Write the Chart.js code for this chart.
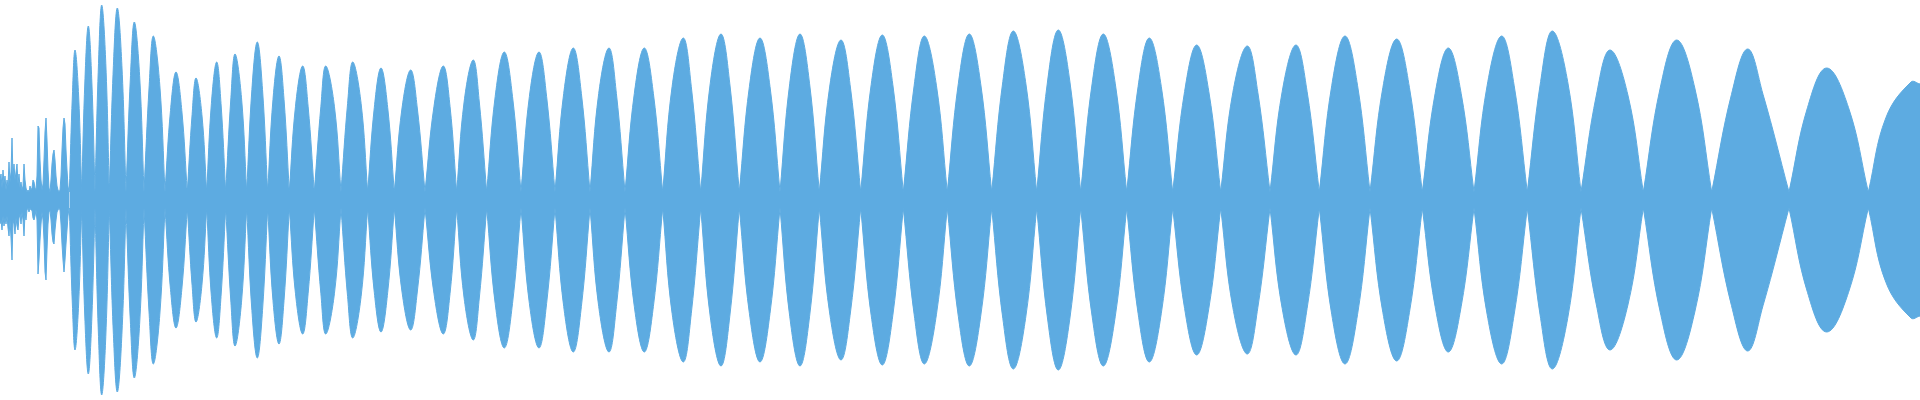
<!DOCTYPE html>
<html>
<head>
<meta charset="utf-8">
<title>Waveform</title>
<script src="https://cdn.jsdelivr.net/npm/chart.js@4/dist/chart.umd.min.js"></script>
<style>
    html, body { margin: 0; padding: 0; background: #fff; }
    #wrap { width: 1920px; height: 400px; }
</style>
</head>
<body>
<div id="wrap"><canvas id="wave" width="1920" height="400"></canvas></div>
<script>
// ---------------------------------------------------------------------------- data
// attaque bruitee du debut (x, haut, bas)
const noiseX = [0,1,2,3,4,5,6,7,8,9,10,11,12,13,14,15,16,17,18,19,20,21,22,23,24,25,26,27,28,29,30,31,32,33,34,35,36,37,38,39,40,41,42,43,44,45,46,47,48,49,50,51,52,53,54,55,56,57,58,59,60,61,62,63,64,65,66,67,68,69];
const noiseTop = [0.10,0.13,0.06,0.15,0.08,0.12,0.05,0.10,0.07,0.19,0.09,0.14,0.31,0.12,0.18,0.10,0.14,0.18,0.08,0.13,0.06,0.09,0.05,0.07,0.18,0.10,0.06,0.04,0.05,0.04,0.07,0.05,0.06,0.10,0.09,0.06,0.05,0.12,0.37,0.36,0.20,0.10,0.05,0.08,0.20,0.34,0.41,0.30,0.15,0.06,0.04,0.10,0.18,0.23,0.25,0.20,0.12,0.07,0.05,0.04,0.05,0.12,0.25,0.36,0.41,0.38,0.25,0.15,0.07,0.04];
const noiseBottom = [0.12,0.10,0.15,0.08,0.13,0.09,0.12,0.08,0.14,0.18,0.10,0.19,0.30,0.10,0.12,0.17,0.09,0.13,0.15,0.09,0.07,0.12,0.06,0.10,0.18,0.07,0.10,0.05,0.04,0.06,0.04,0.05,0.05,0.09,0.10,0.08,0.05,0.10,0.37,0.30,0.20,0.12,0.06,0.10,0.20,0.36,0.40,0.25,0.12,0.06,0.05,0.10,0.17,0.21,0.22,0.15,0.10,0.06,0.05,0.04,0.05,0.12,0.22,0.30,0.36,0.30,0.22,0.15,0.08,0.04];

// lobes : passages a zero, crêtes, et bords a 70 % de la hauteur
const crossings = [69.3,81.7,95,109.3,126,144,165,187.3,206.7,225.7,246.7,267.7,289.3,314.3,341,367.7,394.3,425,456.7,486.7,521,555,590,625,662.7,700.7,739.3,780,819.3,860.7,903.3,947.3,991.7,1036.7,1080.7,1126.7,1172.7,1220.7,1270,1319.3,1370,1422.3,1474,1527.3,1581,1643.3,1711.7,1789,1868.3,1920];
const peakX = [75,88.3,101.7,117.3,134.3,153.3,176,196,216.7,235,257.3,279,302.7,325.7,352.7,381,410.7,443.3,473.3,504.3,539,573.3,609,644.3,683.3,721,760,800,841,882.3,924.3,969.3,1013.3,1058.3,1103.3,1149.3,1196.7,1247.3,1296,1345,1396.7,1448.3,1501.7,1552.3,1610,1676.7,1747.7,1826.7,1911];
const peaks = [0.75,0.87,0.975,0.96,0.89,0.82,0.64,0.61,0.69,0.73,0.79,0.72,0.67,0.67,0.69,0.66,0.65,0.67,0.70,0.74,0.74,0.76,0.76,0.76,0.81,0.83,0.81,0.83,0.80,0.825,0.82,0.83,0.845,0.85,0.83,0.81,0.775,0.77,0.775,0.82,0.805,0.76,0.82,0.845,0.75,0.80,0.755,0.66,0.59];
const shoulderLeft = [72.4,85,98.5,113.4,130.5,149.2,170.5,192.1,211.4,230.9,251.9,273,295.5,320.9,347.6,374.3,401.9,434,464.1,495.2,529.4,563.7,598.7,634.3,672.1,710.2,749.4,789.7,829.5,871.2,914.2,958.3,1002.8,1047.6,1092.1,1138.1,1184.6,1232.9,1282.2,1331.8,1382.9,1435.1,1487.2,1540.6,1596.4,1660.2,1731.5,1807.5,1886];
const shoulderRight = [78.6,91.7,105.8,121.9,139.6,159.8,181.8,201.9,221,241.5,262.5,284,308.1,334.4,361.1,387.7,417.4,450,479.3,512.5,546.6,581.4,616.4,653.4,691.3,729.8,770,809.6,850.5,892.8,936.4,980.7,1025.6,1069.8,1115.3,1161.3,1208.8,1257.8,1307.1,1357.5,1409.4,1461.2,1514.1,1567.7,1627.9,1694.8,1763,1848.5,null];
const shoulder = 0.7;   // hauteur relative des points d'epaule
const neck = 0.04;      // amplitude residuelle au passage a zero
const tailLevel = 0.58; // derniere colonne

const blue = 'rgb(93,171,225)';

// ---------------------------------------------------------------------------- build
const noiseUp = noiseX.map((x, i) => ({x: x, y: noiseTop[i]}));
const noiseDown = noiseX.map((x, i) => ({x: x, y: -noiseBottom[i]}));

const lobesUp = [];
peaks.forEach((h, i) => {
    const end = (i === peaks.length - 1) ? tailLevel : neck;
    lobesUp.push({x: crossings[i], y: neck}, {x: shoulderLeft[i], y: h * shoulder}, {x: peakX[i], y: h});
    if (shoulderRight[i] !== null) lobesUp.push({x: shoulderRight[i], y: h * shoulder});
    lobesUp.push({x: crossings[i + 1], y: end});
});
const lobesDown = lobesUp.map(p => ({x: p.x, y: -p.y}));

const serie = (data, tension) => ({
    data: data,
    parsing: false,
    borderColor: blue,
    backgroundColor: blue,
    borderWidth: 1,
    pointRadius: 0,
    tension: tension,
    fill: 'origin'
});

const ctx = document.getElementById('wave').getContext('2d');
const waveChart = new Chart(ctx, {
    type: 'line',
    data: {
        datasets: [
            serie(noiseUp, 0),
            serie(noiseDown, 0),
            serie(lobesUp, 0.4),
            serie(lobesDown, 0.4)
        ]
    },
    options: {
        responsive: false,
        animation: false,
        layout: { padding: 0 },
        plugins: {
            legend: { display: false },
            tooltip: { enabled: false }
        },
        scales: {
            x: { type: 'linear', min: 0, max: 1920, display: false },
            y: { min: -1, max: 1, display: false }
        }
    }
});
</script>
</body>
</html>
